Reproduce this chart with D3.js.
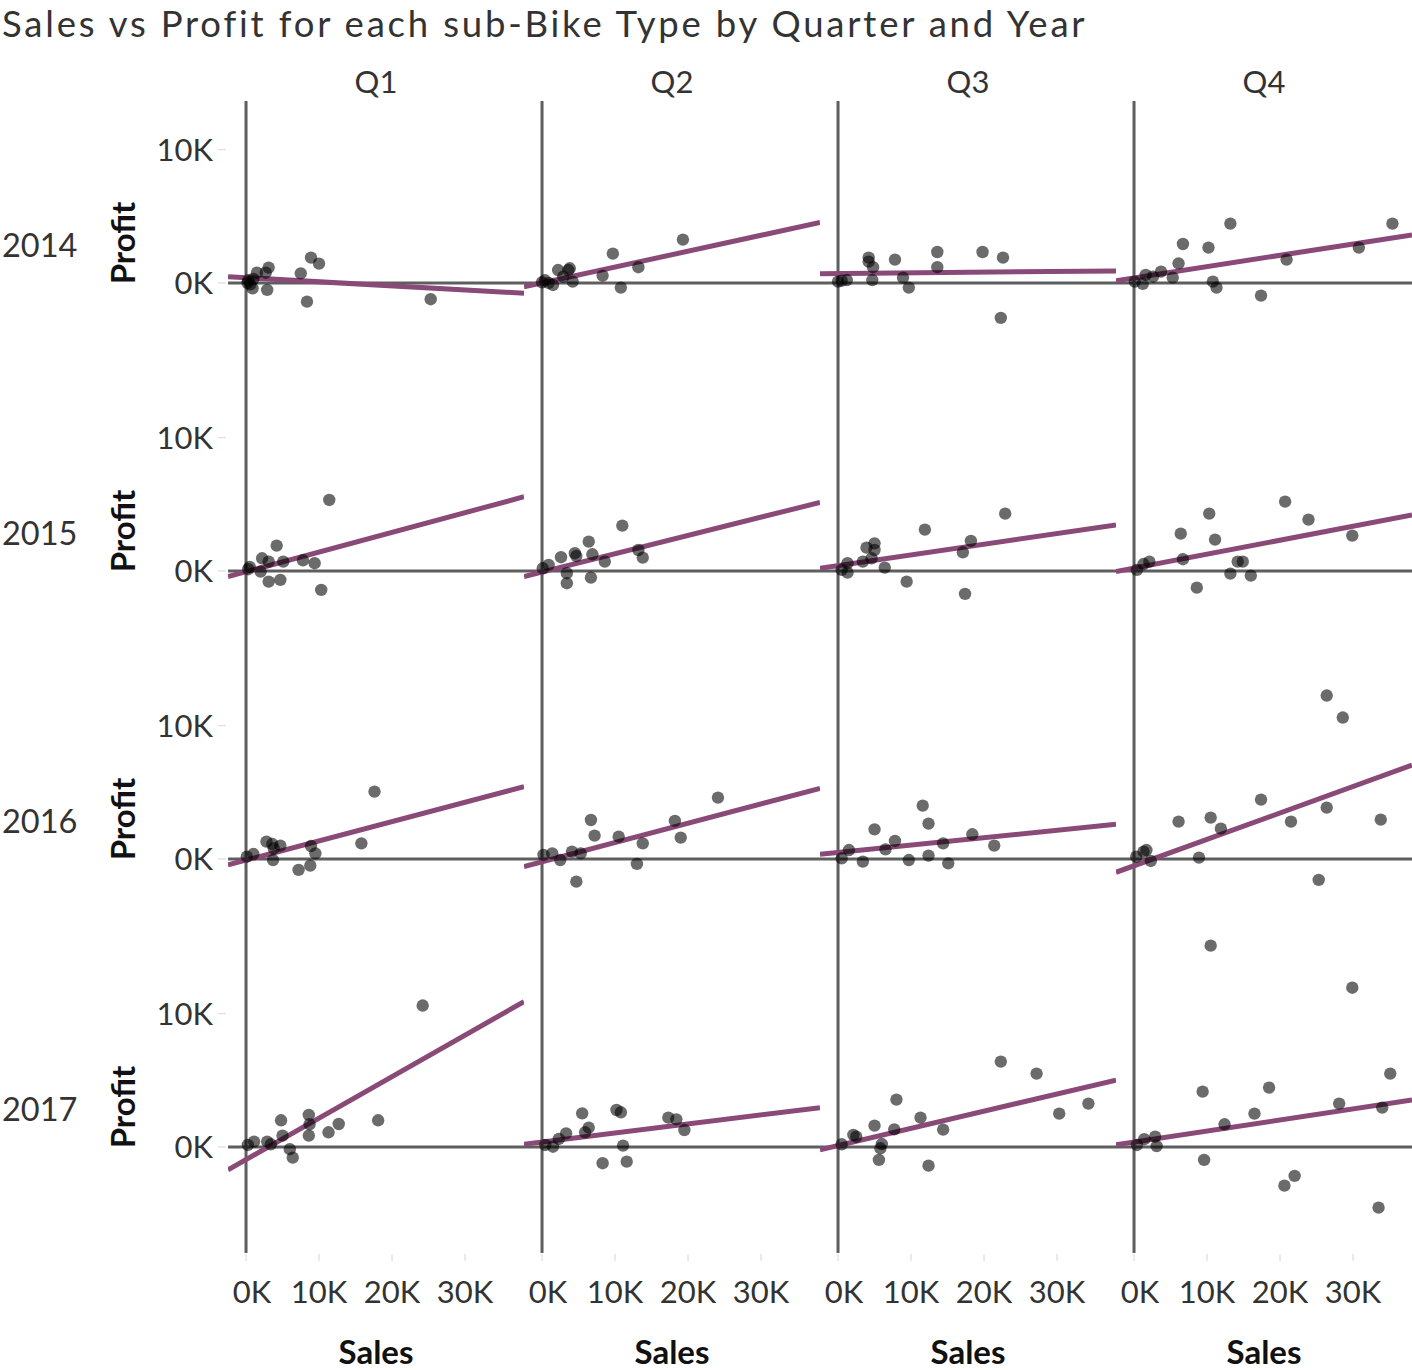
<!DOCTYPE html>
<html><head><meta charset="utf-8">
<script src="https://cdn.jsdelivr.net/npm/d3@7"></script>
<style>body{margin:0;background:#fff}svg{display:block}text{font-family:Lato,"Open Sans",sans-serif}</style>
</head><body><svg id="c" width="1412" height="1370"></svg>
<script>
const titleText = "Sales vs Profit for each sub-Bike Type by Quarter and Year";
const quarters = ["Q1","Q2","Q3","Q4"];
const years = ["2014","2015","2016","2017"];
const xTicks = [0,10,20,30];
const yTicks = [0,10];
// [sales K, profit K]
const p2014Q1 = [[0.2,0.0],[0.6,-0.1],[0.9,-0.4],[0.3,0.2],[1.0,0.3],[1.5,0.77],[2.7,0.77],[3.1,1.15],[2.9,-0.52],[7.5,0.72],[8.9,1.9],[10.0,1.45],[8.35,-1.4],[25.3,-1.22]];
const p2014Q2 = [[0.0,0.05],[0.4,0.2],[0.9,0.0],[1.5,-0.15],[2.2,0.97],[2.9,0.47],[3.6,0.97],[3.8,1.1],[4.2,0.1],[8.3,0.55],[9.7,2.2],[10.8,-0.35],[13.2,1.18],[19.3,3.25]];
const p2014Q3 = [[0.0,0.1],[0.5,0.17],[1.2,0.22],[4.2,1.9],[4.2,1.6],[4.8,1.18],[4.7,0.22],[7.8,1.75],[8.9,0.4],[9.7,-0.35],[13.6,2.32],[13.6,1.18],[19.8,2.32],[22.6,1.9],[22.3,-2.62]];
const p2014Q4 = [[0.1,0.1],[1.2,-0.07],[1.6,0.6],[2.6,0.47],[3.7,0.85],[5.3,0.4],[6.1,1.47],[6.7,2.92],[10.2,2.65],[10.8,0.1],[11.3,-0.35],[13.2,4.45],[17.4,-0.95],[20.9,1.75],[30.8,2.65],[35.4,4.45]];
const p2015Q1 = [[0.3,0.13],[0.5,0.3],[2.2,0.95],[3.1,0.7],[2.0,-0.05],[4.2,1.9],[3.1,-0.8],[4.7,-0.67],[5.1,0.7],[7.8,0.8],[9.4,0.58],[11.4,5.32],[10.3,-1.42]];
const p2015Q2 = [[0.1,0.2],[0.9,0.45],[2.6,1.03],[3.4,-0.17],[3.4,-0.92],[4.5,1.33],[4.7,1.12],[6.4,2.2],[6.9,1.25],[6.7,-0.5],[8.6,0.7],[11.0,3.4],[13.2,1.57],[13.8,1.0]];
const p2015Q3 = [[0.5,0.08],[1.3,0.58],[1.3,-0.12],[3.4,0.7],[3.9,1.75],[4.6,0.95],[5.0,2.07],[5.0,1.57],[6.4,0.25],[9.4,-0.8],[11.9,3.1],[17.1,1.4],[17.4,-1.72],[18.2,2.25],[22.9,4.3]];
const p2015Q4 = [[0.4,0.08],[1.3,0.52],[2.1,0.7],[6.4,2.8],[6.7,0.88],[8.6,-1.25],[10.3,4.3],[11.1,2.35],[13.2,-0.2],[14.2,0.7],[14.9,0.7],[16.0,-0.35],[20.7,5.2],[23.9,3.85],[29.9,2.65]];
const p2016Q1 = [[0.1,0.17],[1.0,0.37],[2.8,1.3],[3.6,1.12],[4.7,1.0],[3.8,0.8],[3.7,-0.08],[7.2,-0.82],[8.8,-0.5],[8.9,0.97],[9.5,0.42],[15.8,1.17],[17.6,5.05]];
const p2016Q2 = [[0.2,0.3],[1.4,0.42],[2.5,-0.08],[4.1,0.55],[5.3,0.42],[4.7,-1.7],[6.7,2.92],[7.2,1.75],[10.5,1.67],[13.0,-0.37],[13.8,1.17],[18.2,2.85],[19.0,1.6],[24.1,4.6]];
const p2016Q3 = [[0.5,0.05],[1.5,0.67],[3.4,-0.2],[5.0,2.22],[6.5,0.72],[7.8,1.35],[9.7,-0.08],[11.6,4.0],[12.4,2.65],[12.4,0.25],[14.4,1.17],[15.1,-0.33],[18.4,1.85],[21.4,1.0]];
const p2016Q4 = [[0.3,0.17],[1.3,0.55],[1.7,0.67],[2.3,-0.15],[6.1,2.8],[8.9,0.1],[10.5,3.1],[11.9,2.27],[10.5,-6.5],[17.4,4.45],[21.5,2.8],[25.3,-1.57],[26.4,3.85],[26.4,12.25],[28.6,10.6],[33.8,2.95]];
const p2017Q1 = [[0.25,0.15],[1.1,0.4],[2.9,0.4],[3.4,0.2],[4.8,2.0],[5.0,0.85],[6.0,-0.17],[6.4,-0.8],[8.6,2.4],[8.7,1.7],[8.6,0.85],[11.3,1.1],[12.7,1.72],[18.1,2.0],[24.2,10.6]];
const p2017Q2 = [[0.45,0.15],[1.5,0.02],[2.3,0.6],[3.3,1.02],[5.5,2.52],[6.4,1.45],[5.9,1.1],[8.3,-1.22],[10.2,2.77],[10.8,2.6],[11.1,0.1],[11.6,-1.1],[17.3,2.2],[18.4,2.07],[19.5,1.27]];
const p2017Q3 = [[0.5,0.2],[2.1,0.9],[2.5,0.77],[5.0,1.6],[6.0,0.22],[5.8,-0.1],[5.6,-0.97],[7.7,1.32],[8.0,3.55],[11.3,2.2],[12.4,-1.4],[14.4,1.3],[22.3,6.4],[27.2,5.5],[30.3,2.5],[34.3,3.25]];
const p2017Q4 = [[0.4,0.15],[1.4,0.58],[2.9,0.77],[3.1,0.07],[9.4,4.15],[9.6,-0.97],[12.4,1.7],[16.5,2.5],[18.5,4.45],[20.6,-2.9],[22.0,-2.17],[28.1,3.25],[29.9,11.94],[33.5,-4.55],[34.0,2.95],[35.1,5.5]];
const panelPoints = [
  [p2014Q1,p2014Q2,p2014Q3,p2014Q4],
  [p2015Q1,p2015Q2,p2015Q3,p2015Q4],
  [p2016Q1,p2016Q2,p2016Q3,p2016Q4],
  [p2017Q1,p2017Q2,p2017Q3,p2017Q4]];
// trend line slope (profit per sales) and intercept (K), rows = years, cols = quarters
const trendSlope = [[-0.0305,0.119,0.005,0.0845],[0.1475,0.137,0.08,0.1047],[0.1446,0.1448,0.0554,0.198],[0.311,0.0677,0.129,0.083]];
const trendIntercept = [[0.395,0.0,0.71,0.38],[-0.056,-0.08,0.40,0.21],[-0.09,-0.22,0.49,-0.51],[-0.95,0.37,0.10,0.36]];

(function () {
const svg = d3.select("#c");
const L = 228, T = 101, pw = 296, ph = 288;
const x = d3.scaleLinear().domain([-2.47, 38.08]).range([0, pw]);
const y = d3.scaleLinear().domain([-7.95, 13.64]).range([ph, 0]);
const fmt = d => d + "K";
const axisCol = "#5e5e5e", txtCol = "#333";

svg.append("text").attr("x", 2).attr("y", 37).attr("font-size", 36.5).attr("letter-spacing", 2.8)
  .attr("fill", txtCol).text(titleText);

const defs = svg.append("defs");
years.forEach((yr, r) => {
  quarters.forEach((q, c) => {
    const gx = L + c * pw, gy = T + r * ph;
    const id = `clip${r}${c}`;
    defs.append("clipPath").attr("id", id).append("rect").attr("x", 0).attr("y", 0).attr("width", pw).attr("height", ph);
    const g = svg.append("g").attr("transform", `translate(${gx},${gy})`);
    g.append("line").attr("x1", x(0)).attr("x2", x(0)).attr("y1", 0).attr("y2", ph).attr("stroke", axisCol).attr("stroke-width", 3);
    g.append("line").attr("x1", 0).attr("x2", pw).attr("y1", y(0)).attr("y2", y(0)).attr("stroke", axisCol).attr("stroke-width", 3);
    const cg = g.append("g").attr("clip-path", `url(#${id})`);
    const s = trendSlope[r][c], b = trendIntercept[r][c];
    const xd = x.domain();
    cg.append("line").attr("x1", x(xd[0])).attr("y1", y(b + s * xd[0])).attr("x2", x(xd[1])).attr("y2", y(b + s * xd[1]))
      .attr("stroke", "#8a4a78").attr("stroke-width", 5);
    cg.selectAll("circle").data(panelPoints[r][c]).join("circle")
      .attr("cx", d => x(d[0])).attr("cy", d => y(d[1])).attr("r", 6.2)
      .attr("fill", "#000").attr("fill-opacity", 0.58);
  });
  const gy = T + r * ph;
  const ya = svg.append("g").attr("transform", `translate(${L},${gy})`);
  yTicks.forEach(t => {
    ya.append("line").attr("x1", -10).attr("x2", -2).attr("y1", y(t)).attr("y2", y(t)).attr("stroke", "#e3e3e3").attr("stroke-width", 1.5);
    ya.append("text").attr("x", -15).attr("y", y(t)).attr("dy", "0.36em").attr("text-anchor", "end")
      .attr("font-size", 31).attr("fill", txtCol).text(fmt(t));
  });
  svg.append("text").attr("transform", `translate(135,${gy + ph / 2 - 2}) rotate(-90)`).attr("text-anchor", "middle")
    .attr("font-size", 33).attr("font-weight", "bold").attr("fill", "#111").text("Profit");
  svg.append("text").attr("x", 2).attr("y", gy + ph / 2).attr("dy", "0.36em").attr("font-size", 32.5).attr("fill", txtCol).text(yr);
});

quarters.forEach((q, c) => {
  const gx = L + c * pw;
  svg.append("text").attr("x", gx + pw / 2).attr("y", 93).attr("text-anchor", "middle").attr("font-size", 31).attr("fill", txtCol).text(q);
  const xa = svg.append("g").attr("transform", `translate(${gx},${T + 4 * ph})`);
  xTicks.forEach(t => {
    xa.append("line").attr("x1", x(t)).attr("x2", x(t)).attr("y1", 1).attr("y2", 8).attr("stroke", "#e3e3e3").attr("stroke-width", 1.5);
    xa.append("text").attr("x", x(t) + (t === 0 ? 6 : 0)).attr("y", 50).attr("text-anchor", "middle")
      .attr("font-size", 31).attr("fill", txtCol).text(fmt(t));
  });
  svg.append("text").attr("x", gx + pw / 2).attr("y", 1364).attr("text-anchor", "middle").attr("font-size", 33)
    .attr("font-weight", "bold").attr("fill", "#111").text("Sales");
});
})();
</script></body></html>
